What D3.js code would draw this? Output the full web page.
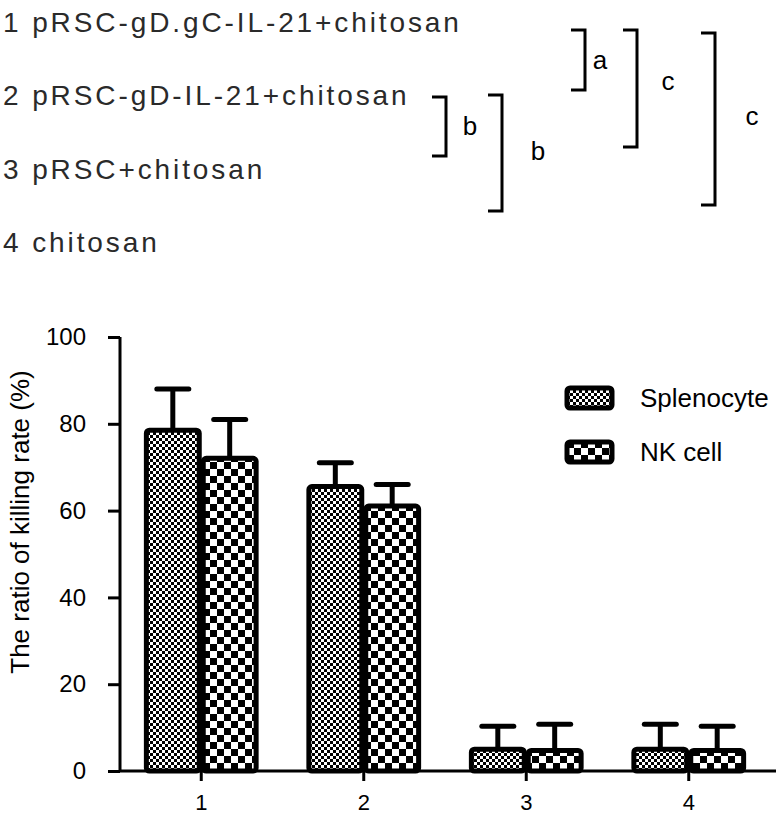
<!DOCTYPE html>
<html><head><meta charset="utf-8">
<script src="https://cdn.jsdelivr.net/npm/d3@7"></script>
<style>body{margin:0;background:#fff}svg{display:block}</style>
</head><body>
<script>
const groupLabels = ["1 pRSC-gD.gC-IL-21+chitosan","2 pRSC-gD-IL-21+chitosan","3 pRSC+chitosan","4 chitosan"];
const categories = ["1","2","3","4"];
const seriesNames = ["Splenocyte","NK cell"];
const splenocyte = [79, 66, 5.5, 5.5];
const splenocyteErr = [9, 5, 4.8, 5.3];
const nkCell = [72.5, 61.5, 5.2, 5.2];
const nkCellErr = [8.5, 4.5, 5.6, 5.1];
const yTicks = [0,20,40,60,80,100];
// significance brackets: [topGroup, bottomGroup, letter]
const brackets = [["1","2","a"],["1","3","c"],["1","4","c"],["2","3","b"],["2","4","b"]];

const W=781,H=818;
const svg=d3.select("body").append("svg").attr("width",W).attr("height",H);
const defs=svg.append("defs");
const p1=defs.append("pattern").attr("id","pSpl").attr("patternUnits","userSpaceOnUse").attr("width",6).attr("height",6);
p1.append("rect").attr("width",6).attr("height",6).attr("fill","#000");
p1.append("rect").attr("x",0).attr("y",0).attr("width",3).attr("height",3).attr("fill","#fff");
p1.append("rect").attr("x",3).attr("y",3).attr("width",3).attr("height",3).attr("fill","#fff");
const p2=defs.append("pattern").attr("id","pNK").attr("patternUnits","userSpaceOnUse").attr("width",14).attr("height",14);
p2.append("rect").attr("width",14).attr("height",14).attr("fill","#fff");
p2.append("rect").attr("x",0).attr("y",0).attr("width",7).attr("height",7).attr("fill","#000");
p2.append("rect").attr("x",7).attr("y",7).attr("width",7).attr("height",7).attr("fill","#000");
const fills=["url(#pSpl)","url(#pNK)"];

const font="Liberation Sans, Arial, sans-serif";
// group label list
const labY=d3.scalePoint().domain(categories).range([32,252]);
svg.append("g").selectAll("text").data(groupLabels).join("text")
  .attr("x",3).attr("y",(d,i)=>labY(categories[i]))
  .attr("font-family",font).attr("font-size",28).attr("letter-spacing",2.9).attr("fill","#2a2a2a").text(d=>d);

// brackets
const bx=[585,637,715,446,502];
const bLabX=[600,668,752,470,538];
const bLabY=[61,82,117,127,152];
const bTop=[30,30,33,97,95], bBot=[90,147,205,156,211];
const bg=svg.append("g");
brackets.forEach((b,i)=>{
  const x=bx[i];
  bg.append("path").attr("d",`M${x-14},${bTop[i]}H${x}V${bBot[i]}H${x-14}`)
    .attr("fill","none").attr("stroke","#000").attr("stroke-width",3);
  bg.append("text").attr("x",bLabX[i]).attr("y",bLabY[i]).attr("dy","0.3em").attr("text-anchor","middle")
    .attr("font-family",font).attr("font-size",26).attr("fill","#000").text(b[2]);
});

// chart
const x=d3.scaleBand().domain(categories).range([120,770]).paddingInner(0.3).paddingOuter(0.15);
const xs=d3.scaleBand().domain(seriesNames).range([0,x.bandwidth()]);
const y=d3.scaleLinear().domain([0,100]).range([771,337]);

const data=categories.map((c,i)=>[
  {c,s:seriesNames[0],v:splenocyte[i],e:splenocyteErr[i],f:fills[0]},
  {c,s:seriesNames[1],v:nkCell[i],e:nkCellErr[i],f:fills[1]}
]).flat();

const g=svg.append("g");
data.forEach(d=>{
  const cx=x(d.c)+xs(d.s)+xs.bandwidth()/2;
  g.append("line").attr("x1",cx).attr("x2",cx).attr("y1",y(d.v)).attr("y2",y(d.v+d.e)).attr("stroke","#000").attr("stroke-width",5);
  g.append("line").attr("x1",cx-16).attr("x2",cx+16).attr("y1",y(d.v+d.e)).attr("y2",y(d.v+d.e)).attr("stroke","#000").attr("stroke-width",5).attr("stroke-linecap","round");
});
g.selectAll("rect.bar").data(data).join("rect").attr("class","bar")
  .attr("x",d=>x(d.c)+xs(d.s)+2).attr("width",xs.bandwidth()-4)
  .attr("y",d=>y(d.v)+2).attr("height",d=>y(0)-y(d.v)-2)
  .attr("rx",3).attr("fill",d=>d.f).attr("stroke","#000").attr("stroke-width",5);

// axes
const yAxis=svg.append("g").attr("transform","translate(120,0)")
  .call(d3.axisLeft(y).tickValues(yTicks).tickSize(12).tickPadding(22).tickSizeOuter(0));
yAxis.select(".domain").attr("stroke-width",3).attr("d","M0,337V771");
yAxis.selectAll(".tick line").attr("stroke-width",3);
yAxis.selectAll("text").attr("font-family",font).attr("font-size",24).attr("fill","#000");

const xAxis=svg.append("g").attr("transform","translate(0,771)")
  .call(d3.axisBottom(x).tickSize(10).tickPadding(13).tickSizeOuter(0));
xAxis.select(".domain").attr("stroke-width",3).attr("d","M120,0H776");
xAxis.selectAll(".tick line").attr("stroke-width",3);
xAxis.selectAll("text").attr("font-family",font).attr("font-size",22).attr("fill","#000");

svg.append("text").attr("transform","translate(29,522) rotate(-90)").attr("text-anchor","middle")
  .attr("font-family",font).attr("font-size",26).attr("fill","#000").text("The ratio of killing rate (%)");

// legend
const lg=svg.append("g");
seriesNames.forEach((s,i)=>{
  const ly=398+i*54;
  lg.append("rect").attr("x",567).attr("y",ly-10).attr("width",45).attr("height",20).attr("rx",3)
    .attr("fill",fills[i]).attr("stroke","#000").attr("stroke-width",5);
  lg.append("text").attr("x",640).attr("y",ly).attr("dy","0.35em").attr("font-family",font).attr("font-size",26).attr("fill","#000").text(s);
});
</script>
</body></html>
